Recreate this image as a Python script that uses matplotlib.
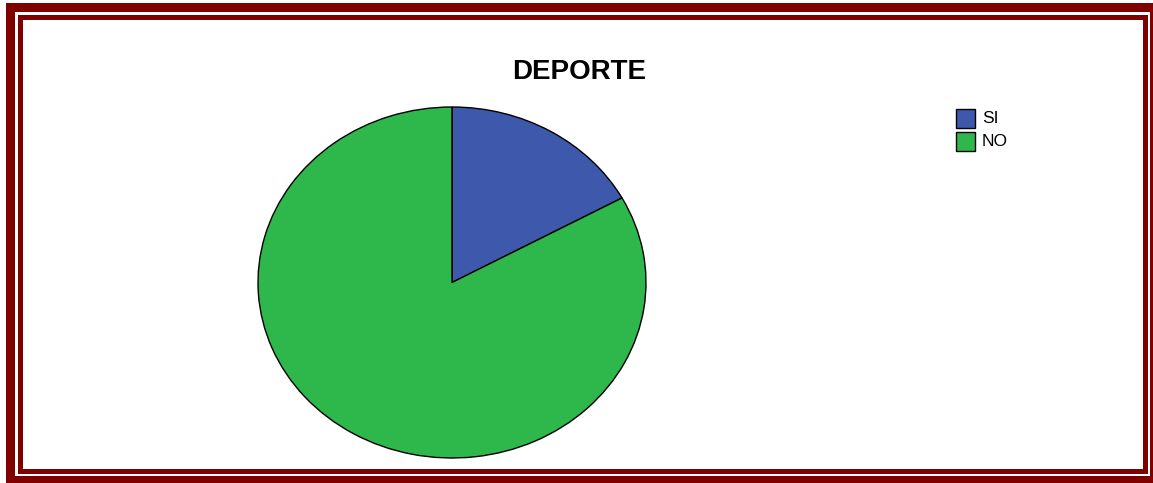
import matplotlib.pyplot as plt
from matplotlib.patches import Rectangle

# Respuestas a la pregunta DEPORTE (porcentaje)
labels = ['SI', 'NO']
values = [17, 83]
colors = ['#3E58AC', '#2EB84B']
title = 'DEPORTE'

W, H = 1153, 483
fig = plt.figure(figsize=(W / 100, H / 100), dpi=100)
plt.rcParams['font.family'] = ['Liberation Sans', 'DejaVu Sans']


def px_rect(x0, y0, x1, y1, color):
    # rectangle given in pixel coordinates (origin at top left)
    r = Rectangle((x0 / W, (H - y1) / H), (x1 - x0) / W, (y1 - y0) / H,
                  transform=fig.transFigure, facecolor=color,
                  edgecolor='none', zorder=-5)
    fig.add_artist(r)


# double maroon frame
maroon = '#800000'
px_rect(6, 3, 1165, 495, maroon)
px_rect(15, 12, 1150, 476, 'white')
px_rect(18, 15, 1148, 474, maroon)
px_rect(23, 20, 1143, 469, 'white')

# pie drawn in a stretched axes so it comes out slightly elliptical
ax = fig.add_axes([258 / W, (H - 458) / H, 388 / W, 351 / H])
ax.pie(values, colors=colors, startangle=90, counterclock=False,
       wedgeprops=dict(edgecolor='black', linewidth=1))
ax.set_aspect('auto')
ax.set_xlim(-1, 1)
ax.set_ylim(-1, 1)
ax.axis('off')

fig.text(579 / W, (H - 72) / H, title, ha='center', va='center',
         fontsize=20, fontweight='bold')

# legend
for i, (lab, col) in enumerate(zip(labels, colors)):
    y0 = 109 + i * 23
    r = Rectangle((956 / W, (H - y0 - 19) / H), 19 / W, 19 / H,
                  transform=fig.transFigure, facecolor=col,
                  edgecolor='black', linewidth=1)
    fig.add_artist(r)
    fig.text(982 / W, (H - y0 - 9.5) / H, lab, ha='left', va='center',
             fontsize=12.5)

plt.savefig('out.png', dpi=100)
plt.close()
